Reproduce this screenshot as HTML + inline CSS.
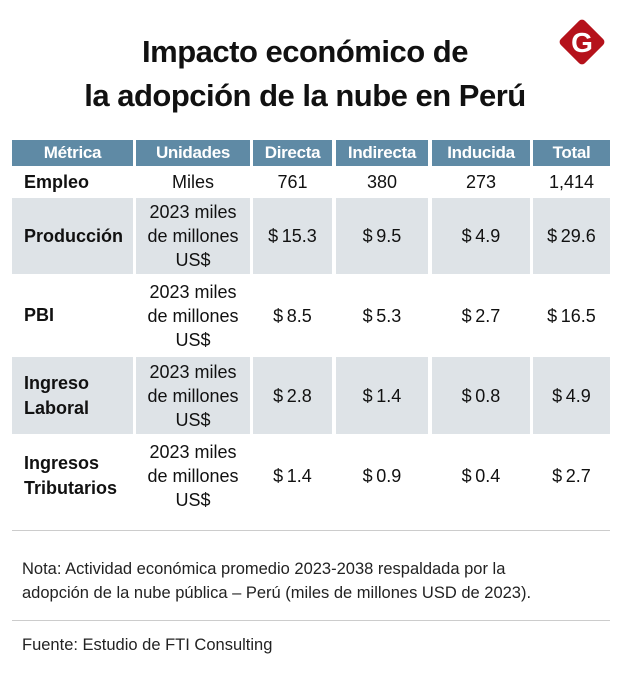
<!DOCTYPE html>
<html><head><meta charset="utf-8"><style>
body{margin:0;width:620px;height:682px;background:#fff;font-family:"Liberation Sans",sans-serif;position:relative;overflow:hidden;color:#111}
.a{position:absolute}
h1{position:absolute;left:0;width:610px;top:30px;margin:0;text-align:center;font-size:31px;line-height:44px;font-weight:bold;letter-spacing:-0.5px}
.c{position:absolute;display:flex;align-items:center;justify-content:center;text-align:center;font-size:18px;line-height:24px;box-sizing:border-box;white-space:nowrap}
.h{background:#5f8aa5;color:#fff;font-weight:bold;font-size:17px;letter-spacing:-0.3px}
.g{background:#dee3e7}
.m{justify-content:flex-start;padding-left:12px;font-weight:bold;text-align:left;line-height:25px}
</style></head><body>
<h1>Impacto económico de<br>la adopción de la nube en Perú</h1>
<div class="a" style="left:565px;top:25px;width:34px;height:34px;background:#b5121b;transform:rotate(45deg);border-radius:4px"></div>
<div class="a" style="left:566px;top:27px;width:32px;text-align:center;color:#fff;font-weight:bold;font-size:28px">G</div>
<div id="t"></div>
<div class="a" style="left:12px;top:530px;width:598px;height:1px;background:#ccc"></div>
<div class="a" style="left:22px;top:557px;font-size:16.5px;line-height:24px;color:#222">Nota: Actividad económica promedio 2023-2038 respaldada por la<br>adopción de la nube pública – Perú (miles de millones USD de 2023).</div>
<div class="a" style="left:12px;top:620px;width:598px;height:1px;background:#ccc"></div>
<div class="a" style="left:22px;top:636px;font-size:16.5px;color:#222">Fuente: Estudio de FTI Consulting</div>
<script>
const headers=["Métrica","Unidades","Directa","Indirecta","Inducida","Total"];
const metrics=["Empleo","Producción","PBI","Ingreso<br>Laboral","Ingresos<br>Tributarios"];
const units=["Miles","2023 miles<br>de millones<br>US$","2023 miles<br>de millones<br>US$","2023 miles<br>de millones<br>US$","2023 miles<br>de millones<br>US$"];
const directa=["761","$ 15.3","$ 8.5","$ 2.8","$ 1.4"];
const indirecta=["380","$ 9.5","$ 5.3","$ 1.4","$ 0.9"];
const inducida=["273","$ 4.9","$ 2.7","$ 0.8","$ 0.4"];
const total=["1,414","$ 29.6","$ 16.5","$ 4.9","$ 2.7"];
const cols=[[12,121],[136,114],[253,79],[336,92],[432,98],[533,77]];
const rows=[[168,28],[198,76],[277,77],[357,77],[437,77]];
const t=document.getElementById('t');
function cell(x,y,w,h,cls,html,name){const d=document.createElement('div');d.className='c '+cls;d.style.cssText=`left:${x}px;top:${y}px;width:${w}px;height:${h}px`;d.innerHTML=html;


t.appendChild(d);}
headers.forEach((h,i)=>cell(cols[i][0],140,cols[i][1],26,'h',h,'header-'+i));
const series=[metrics,units,directa,indirecta,inducida,total];
rows.forEach((r,ri)=>{series.forEach((s,ci)=>{let cls=(ri%2==1?'g ':'')+(ci==0?'m':'');cell(cols[ci][0],r[0],cols[ci][1],r[1],cls,s[ri].replace('$ ',()=>'$\u2009'),'cell-r'+ri+'-c'+ci);});});
</script>
</body></html>
